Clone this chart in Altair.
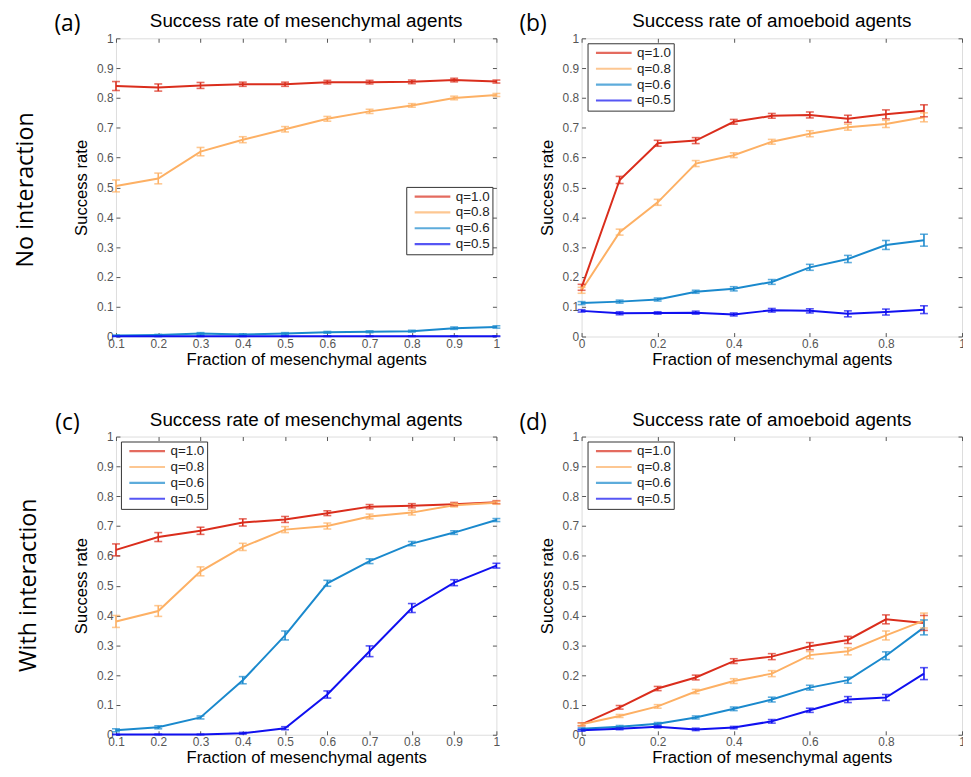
import altair as alt
import pandas as pd

series = ["q=1.0", "q=0.8", "q=0.6", "q=0.5"]
colors = ["#DA2D1C", "#FDB064", "#1A89CD", "#1010F0"]

x_mes = [0.1, 0.2, 0.3, 0.4, 0.5, 0.6, 0.7, 0.8, 0.9, 1.0]
x_amo = [0.0, 0.1, 0.2, 0.3, 0.4, 0.5, 0.6, 0.7, 0.8, 0.9]
xticks_mes = [0.1, 0.2, 0.3, 0.4, 0.5, 0.6, 0.7, 0.8, 0.9, 1.0]
xticks_amo = [0, 0.2, 0.4, 0.6, 0.8, 1.0]
yticks = [0, 0.1, 0.2, 0.3, 0.4, 0.5, 0.6, 0.7, 0.8, 0.9, 1.0]

# (a) no interaction, mesenchymal
a_q10 = [0.840, 0.835, 0.842, 0.846, 0.846, 0.853, 0.853, 0.854, 0.860, 0.855]
a_q08 = [0.505, 0.530, 0.620, 0.660, 0.695, 0.730, 0.755, 0.775, 0.800, 0.810]
a_q06 = [0.003, 0.005, 0.010, 0.007, 0.010, 0.014, 0.016, 0.018, 0.028, 0.032]
a_q05 = [0.001, 0.001, 0.001, 0.001, 0.001, 0.001, 0.001, 0.001, 0.001, 0.001]
a_e10 = [0.015, 0.012, 0.010, 0.007, 0.007, 0.006, 0.006, 0.006, 0.006, 0.005]
a_e08 = [0.020, 0.018, 0.014, 0.010, 0.009, 0.008, 0.007, 0.006, 0.006, 0.005]
a_e06 = [0.002, 0.002, 0.003, 0.002, 0.003, 0.003, 0.003, 0.003, 0.004, 0.004]
a_e05 = [0.001, 0.001, 0.001, 0.001, 0.001, 0.001, 0.001, 0.001, 0.001, 0.001]

# (b) no interaction, amoeboid
b_q10 = [0.165, 0.525, 0.648, 0.657, 0.720, 0.740, 0.743, 0.730, 0.745, 0.757]
b_q08 = [0.155, 0.350, 0.450, 0.580, 0.608, 0.653, 0.680, 0.702, 0.713, 0.735]
b_q06 = [0.112, 0.117, 0.124, 0.150, 0.160, 0.183, 0.232, 0.260, 0.307, 0.323]
b_q05 = [0.086, 0.078, 0.079, 0.080, 0.074, 0.088, 0.086, 0.076, 0.082, 0.090]
b_e10 = [0.010, 0.012, 0.010, 0.010, 0.008, 0.008, 0.010, 0.012, 0.015, 0.020]
b_e08 = [0.010, 0.010, 0.010, 0.010, 0.008, 0.008, 0.010, 0.010, 0.012, 0.015]
b_e06 = [0.005, 0.005, 0.005, 0.005, 0.007, 0.008, 0.010, 0.012, 0.015, 0.020]
b_e05 = [0.004, 0.005, 0.004, 0.005, 0.005, 0.006, 0.007, 0.010, 0.010, 0.013]

# (c) with interaction, mesenchymal
c_q10 = [0.620, 0.663, 0.684, 0.712, 0.722, 0.743, 0.765, 0.768, 0.773, 0.780]
c_q08 = [0.380, 0.415, 0.548, 0.630, 0.688, 0.700, 0.732, 0.745, 0.770, 0.778]
c_q06 = [0.015, 0.025, 0.058, 0.183, 0.333, 0.508, 0.582, 0.641, 0.678, 0.720]
c_q05 = [0.001, 0.001, 0.001, 0.005, 0.022, 0.135, 0.280, 0.425, 0.510, 0.567]
c_e10 = [0.020, 0.015, 0.012, 0.012, 0.010, 0.008, 0.007, 0.007, 0.006, 0.005]
c_e08 = [0.020, 0.018, 0.015, 0.012, 0.010, 0.010, 0.008, 0.008, 0.006, 0.005]
c_e06 = [0.005, 0.005, 0.005, 0.012, 0.015, 0.010, 0.008, 0.007, 0.006, 0.005]
c_e05 = [0.001, 0.001, 0.001, 0.003, 0.005, 0.012, 0.018, 0.015, 0.010, 0.008]

# (d) with interaction, amoeboid
d_q10 = [0.035, 0.092, 0.155, 0.192, 0.247, 0.262, 0.297, 0.318, 0.387, 0.375]
d_q08 = [0.035, 0.063, 0.095, 0.145, 0.180, 0.205, 0.267, 0.280, 0.333, 0.383]
d_q06 = [0.020, 0.027, 0.037, 0.058, 0.087, 0.118, 0.158, 0.183, 0.265, 0.360]
d_q05 = [0.015, 0.020, 0.027, 0.018, 0.024, 0.045, 0.082, 0.118, 0.125, 0.205]
d_e10 = [0.005, 0.006, 0.007, 0.008, 0.008, 0.010, 0.012, 0.012, 0.015, 0.025]
d_e08 = [0.004, 0.005, 0.006, 0.007, 0.008, 0.010, 0.012, 0.012, 0.015, 0.025]
d_e06 = [0.003, 0.004, 0.004, 0.005, 0.006, 0.008, 0.008, 0.010, 0.013, 0.025]
d_e05 = [0.003, 0.003, 0.004, 0.004, 0.004, 0.006, 0.007, 0.010, 0.010, 0.020]

title_mes = "Success rate of mesenchymal agents"
title_amo = "Success rate of amoeboid agents"
xlabel = "Fraction of mesenchymal agents"
ylabel = "Success rate"

FONT = "Liberation Sans"
W, H = 384, 301


def long_df(xs, means, errs):
    rows = []
    for s, m_list, e_list in zip(series, means, errs):
        for x, m, e in zip(xs, m_list, e_list):
            rows.append({"x": x, "y": m, "lo": m - e, "hi": m + e, "q": s})
    return pd.DataFrame(rows)


def text_layer(txt, x, y, size, font, angle=0):
    return alt.Chart(pd.DataFrame({"t": [txt]})).mark_text(
        fontSize=size, font=font, align="center", baseline="middle",
        angle=angle, color="black"
    ).encode(text="t:N", x=alt.value(x), y=alt.value(y))


def panel(df, xdomain, xticks, title, letter, lx, ly, rowlabel=None, rx=0, ry=0):
    xscale = alt.Scale(domain=xdomain, nice=False, zero=False)
    yscale = alt.Scale(domain=[0, 1], nice=False)
    xaxis = alt.Axis(values=xticks, format="~g", orient="bottom", domain=False,
                     tickSize=4, offset=-4, tickColor="#555", labelColor="#555",
                     labelFontSize=12, labelFont=FONT, labelPadding=2,
                     titleFont=FONT, titleFontSize=16.8, titleFontWeight="normal",
                     titleColor="black", titlePadding=2, grid=False, labelFlush=False)
    yaxis = alt.Axis(values=yticks, format="~g", orient="left", domain=False,
                     tickSize=4, offset=-4, tickColor="#555", labelColor="#555",
                     labelFontSize=12, labelFont=FONT, labelPadding=3,
                     titleFont=FONT, titleFontSize=16.8, titleFontWeight="normal",
                     titleColor="black", titlePadding=6, grid=False, labelFlush=False)
    legend = alt.Legend(title=None, orient="none", legendX=lx, legendY=ly,
                        symbolType="stroke", symbolSize=1296, symbolStrokeWidth=2.2,
                        symbolOffset=5, clipHeight=15.5, rowPadding=0,
                        labelFontSize=13.5, labelFont=FONT,
                        labelExpr="datum.label + '\u2002'",
                        labelColor="#222", labelOffset=4, strokeColor="#333",
                        fillColor="white", padding=2)
    color = alt.Color("q:N", scale=alt.Scale(domain=series, range=colors), legend=legend)
    X = alt.X("x:Q", scale=xscale, axis=xaxis, title=xlabel)
    base = alt.Chart(df)
    line = base.mark_line(strokeWidth=2).encode(
        x=X, y=alt.Y("y:Q", scale=yscale, axis=yaxis, title=ylabel), color=color,
        detail="q:N", order=alt.Order("x:Q"))
    bars = base.mark_rule(strokeWidth=1.6).encode(
        x=X, y=alt.Y("lo:Q", scale=yscale, axis=yaxis, title=ylabel), y2="hi:Q", color=color)
    cap_lo = base.mark_tick(orient="horizontal", size=8, thickness=1.6).encode(
        x=X, y=alt.Y("lo:Q", scale=yscale, axis=yaxis, title=ylabel), color=color)
    cap_hi = base.mark_tick(orient="horizontal", size=8, thickness=1.6).encode(
        x=X, y=alt.Y("hi:Q", scale=yscale, axis=yaxis, title=ylabel), color=color)
    layers = [line, bars, cap_lo, cap_hi,
              text_layer(letter, -49, -14, 23, "Open Sans"),
              text_layer(title, W / 2, -17, 19, FONT)]
    if rowlabel:
        layers.append(text_layer(rowlabel, rx, ry, 23.5, "Open Sans", angle=270))
    inner = alt.layer(*layers)
    dummy = alt.Chart(df).mark_point(opacity=0).encode(
        x=alt.X("x:Q", scale=xscale,
                axis=alt.Axis(values=xticks, orient="top", labels=False, domain=False,
                              tickSize=4, offset=-4, tickColor="#555", title=None, grid=False)),
        y=alt.Y("y:Q", scale=yscale,
                axis=alt.Axis(values=yticks, orient="right", labels=False, domain=False,
                              tickSize=4, offset=-4, tickColor="#555", title=None, grid=False)),
    )
    return alt.layer(inner, dummy).resolve_scale(x="independent", y="independent").properties(
        width=W, height=H)


df_a = long_df(x_mes, [a_q10, a_q08, a_q06, a_q05], [a_e10, a_e08, a_e06, a_e05])
df_b = long_df(x_amo, [b_q10, b_q08, b_q06, b_q05], [b_e10, b_e08, b_e06, b_e05])
df_c = long_df(x_mes, [c_q10, c_q08, c_q06, c_q05], [c_e10, c_e08, c_e06, c_e05])
df_d = long_df(x_amo, [d_q10, d_q08, d_q06, d_q05], [d_e10, d_e08, d_e06, d_e05])

pa = panel(df_a, [0.1, 1.0], xticks_mes, title_mes, "(a)", 293, 150,
           "No interaction", -91, 153)
pb = panel(df_b, [0, 1.0], xticks_amo, title_amo, "(b)", 6, 5)
pc = panel(df_c, [0.1, 1.0], xticks_mes, title_mes, "(c)", 5, 5,
           "With interaction", -88, 150)
pd_ = panel(df_d, [0, 1.0], xticks_amo, title_amo, "(d)", 6, 5)

chart = alt.concat(pa, pb, pc, pd_, columns=2, spacing={"row": 101, "column": 86},
                   bounds="flush").resolve_scale(
    color="independent"
).properties(padding={"left": 5, "top": 0, "right": -3, "bottom": 2}).configure_view(
    stroke="#555", strokeWidth=1
).configure(background="white")

chart.save("out.html", embed_options={"renderer": "svg", "actions": False})
